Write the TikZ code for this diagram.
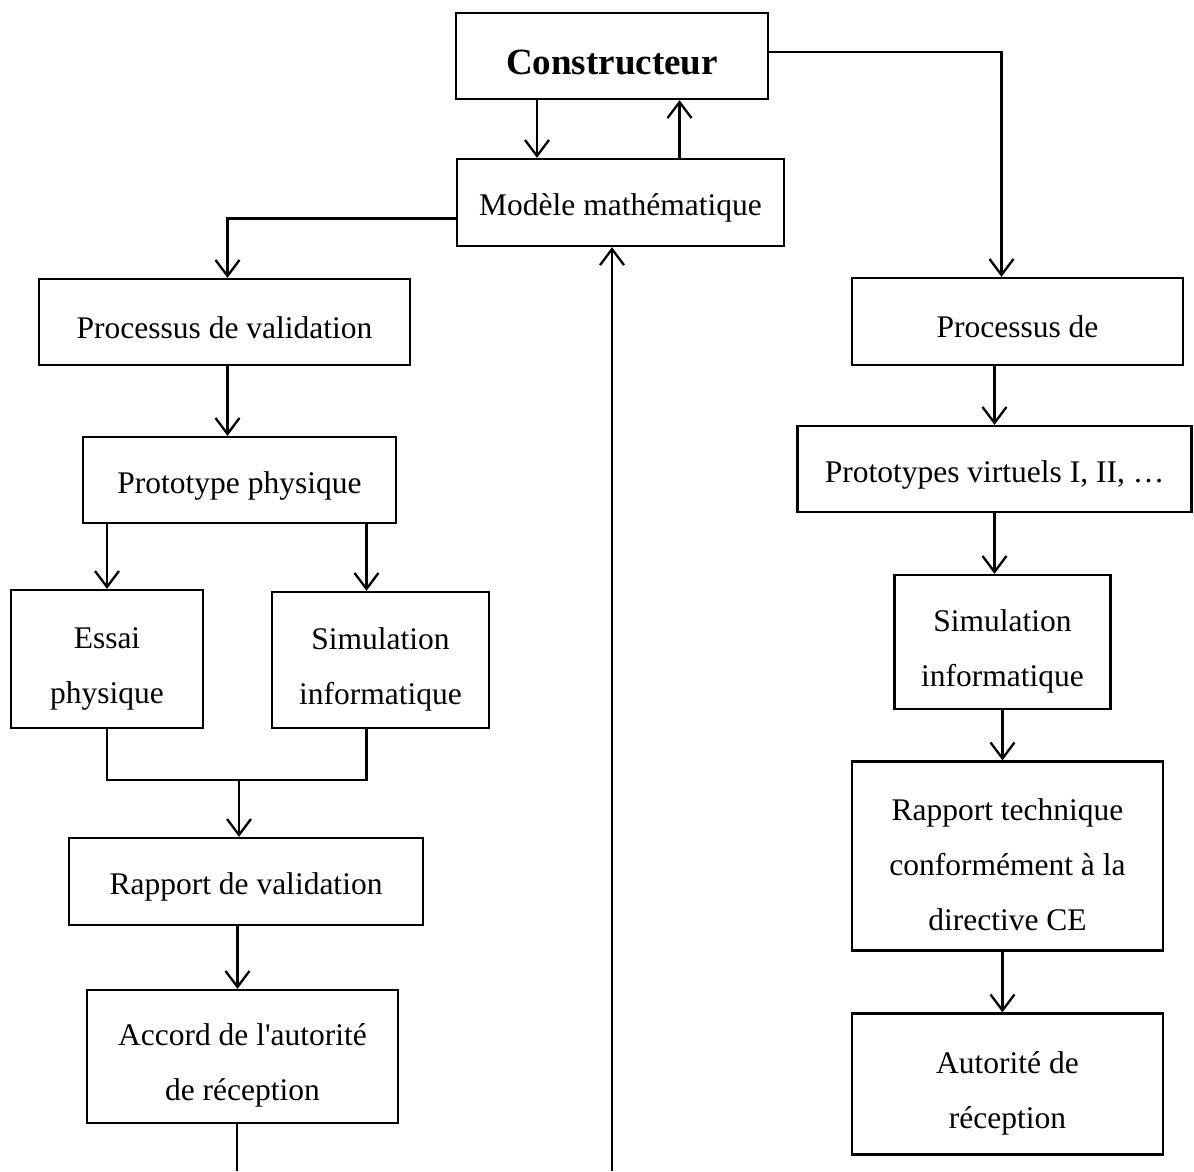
\documentclass[tikz,border=0pt]{standalone}
\usepackage{fontspec}
\setmainfont{Liberation Serif}
\usetikzlibrary{arrows.meta}
\begin{document}
\begin{tikzpicture}[x=1pt,y=-1pt,
    boite/.style={draw,line width=2.3pt,inner sep=0pt,align=center,text height=33pt,
        font=\fontsize{31.5pt}{55pt}\selectfont},
    deux/.style={text height=95pt},
    trois/.style={text height=149pt},
    fleche/.style={-{Straight Barb[length=16pt,width=24pt,line width=2.3pt]},line width=2.3pt},
    trait/.style={line width=2.3pt}]
    \useasboundingbox (0,0) rectangle (1194,1171);

    \node[boite,minimum width=312pt,minimum height=86pt,text height=37pt,font=\fontsize{37pt}{44pt}\selectfont\bfseries] (constr) at (612,56) {Constructeur};
    \node[boite,minimum width=327pt,minimum height=87pt] (modele) at (620.5,202.5) {Modèle mathématique};

    \node[boite,minimum width=371pt,minimum height=86pt] (procval) at (224.5,322) {Processus de validation};
    \node[boite,minimum width=313pt,minimum height=86pt] (protophys) at (239.5,480) {Prototype physique};
    \node[boite,deux,minimum width=192pt,minimum height=138pt] (essai) at (107,659) {Essai\\physique};
    \node[boite,deux,minimum width=217pt,minimum height=136pt] (simgauche) at (380.5,660) {Simulation\\informatique};
    \node[boite,minimum width=354pt,minimum height=87pt] (rapval) at (246,881.5) {Rapport de validation};
    \node[boite,deux,minimum width=311pt,minimum height=133pt] (accord) at (242.5,1056.5) {Accord de l\textquotesingle autorité\\de réception};

    \node[boite,minimum width=331pt,minimum height=87pt] (procde) at (1017.5,321.5) {Processus de};
    \node[boite,minimum width=394pt,minimum height=86pt] (protovirt) at (994.5,469) {Prototypes virtuels I, II, …};
    \node[boite,deux,minimum width=216pt,minimum height=134pt] (simdroite) at (1002.5,642) {Simulation\\informatique};
    \node[boite,trois,minimum width=311pt,minimum height=189pt] (rapptech) at (1007.5,856) {Rapport technique\\conformément à la\\directive CE};
    \node[boite,deux,minimum width=311pt,minimum height=141pt] (autorite) at (1007.5,1084) {Autorité de\\réception};

    \coordinate (jonc) at (239,780);
    \coordinate (basgauche) at (237,1171);
    \coordinate (basmilieu) at (612,1171);

    \draw[fleche] ([xshift=-75pt]constr.south) -- ([xshift=-75pt]constr.south |- modele.north);
    \draw[fleche] ([xshift=59pt]modele.north) -- ([xshift=59pt]modele.north |- constr.south);
    \draw[fleche] ([yshift=4pt]constr.east) -| ([xshift=-16pt]procde.north);
    \draw[fleche] ([yshift=-16pt]modele.west) -| ([xshift=3pt]procval.north);
    \draw[fleche] (basmilieu) -- (modele.south -| basmilieu);

    \draw[fleche] ([xshift=3pt]procval.south) -- ([xshift=3pt]procval.south |- protophys.north);
    \draw[fleche] (protophys.south -| essai.north) -- (essai.north);
    \draw[fleche] ([xshift=-14pt]simgauche.north |- protophys.south) -- ([xshift=-14pt]simgauche.north);
    \draw[trait] (essai.south) -- (essai.south |- jonc) -- ([xshift=-14pt]simgauche.south |- jonc) -- ([xshift=-14pt]simgauche.south);
    \draw[fleche] (jonc) -- (rapval.north -| jonc);
    \draw[fleche] ([xshift=-5pt]accord.north |- rapval.south) -- ([xshift=-5pt]accord.north);
    \draw[trait] (accord.south -| basgauche) -- (basgauche);

    \draw[fleche] (procde.south -| protovirt.north) -- (protovirt.north);
    \draw[fleche] (protovirt.south) -- (protovirt.south |- simdroite.north);
    \draw[fleche] (simdroite.south) -- (simdroite.south |- rapptech.north);
    \draw[fleche] ([xshift=-5pt]rapptech.south) -- ([xshift=-5pt]autorite.north);
\end{tikzpicture}
\end{document}
